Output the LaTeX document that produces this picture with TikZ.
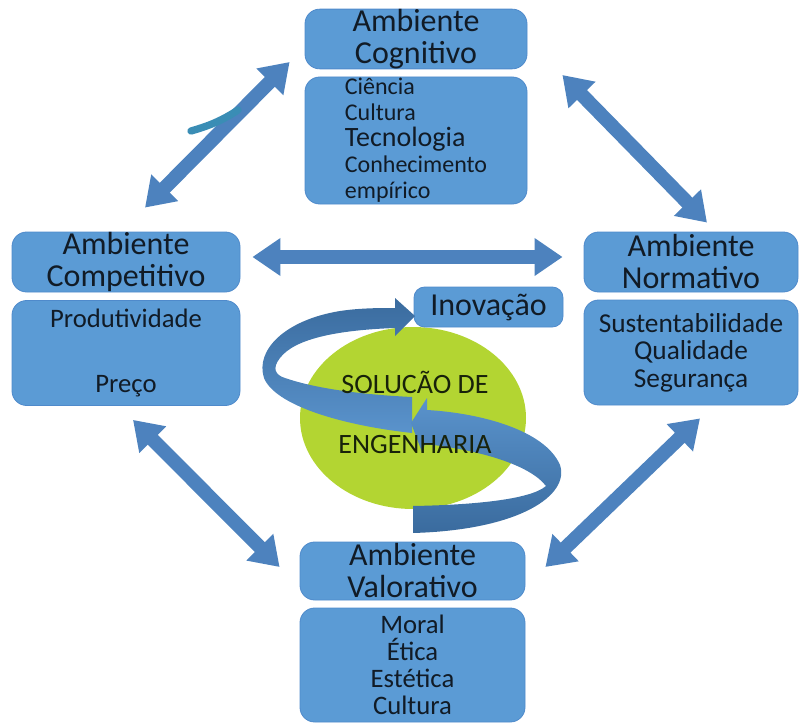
\documentclass[tikz,border=0pt]{standalone}
\usepackage{fontspec}
\setmainfont{Carlito}
\usetikzlibrary{arrows.meta,calc,shapes.geometric}

\definecolor{boxblue}{HTML}{5B9BD5}
\definecolor{boxedge}{HTML}{4F8ACB}
\definecolor{arrowblue}{HTML}{4D82BE}
\definecolor{inkdark}{HTML}{111B26}
\definecolor{limegreen}{HTML}{B3D532}
\definecolor{olivetext}{HTML}{18220A}
\definecolor{ribbonlight}{HTML}{5A93CC}
\definecolor{ribbondark}{HTML}{3A6B9E}
\definecolor{stroketeal}{HTML}{3A8DB5}

\begin{document}
\begin{tikzpicture}[x=0.75pt,y=-0.75pt,
  panel/.style={draw=boxedge, line width=0.6pt, fill=boxblue, rounded corners=11pt,
                inner sep=0pt, text=inkdark, align=center},
  titlebox/.style={panel, font=\fontsize{24pt}{24pt}\selectfont},
  itembox/.style={panel, font=\fontsize{20pt}{20.5pt}\selectfont},
  link/.style={draw=arrowblue, line width=10.5pt,
               {Triangle[width=27pt,length=21pt]}-{Triangle[width=27pt,length=21pt]}},
  ribbon/.style={draw=none}
]
\useasboundingbox (0,0) rectangle (800,724);

% ---- environment panels ----
\node[titlebox, minimum width=166.5pt, minimum height=43.5pt] (cogt) at (416,39) {Ambiente\\Cognitivo};
\node[itembox, minimum width=166.5pt, minimum height=95.25pt, align=left,
      font=\fontsize{18pt}{19.5pt}\selectfont] (cogi) at (416,140.5)
      {Ciência\\Cultura\\{\fontsize{21pt}{19.5pt}\selectfont Tecnologia}\\Conhecimento\\empírico};

\node[titlebox, minimum width=171pt, minimum height=45pt] (compt) at (126,262) {Ambiente\\Competitivo};
\node[itembox, minimum width=171pt, minimum height=78.75pt,
      font=\fontsize{20pt}{24.4pt}\selectfont] (compi) at (126,353) {Produtividade\\[24.4pt]Preço};

\node[titlebox, minimum width=160.5pt, minimum height=45pt] (normt) at (691,262) {Ambiente\\Normativo};
\node[itembox, minimum width=160.5pt, minimum height=78.75pt,
      font=\fontsize{20.5pt}{20.6pt}\selectfont] (normi) at (691,352.5)
      {Sustentabilidade\\Qualidade\\Segurança};

\node[titlebox, minimum width=168.75pt, minimum height=43.5pt] (valt) at (412.5,571) {Ambiente\\Valorativo};
\node[itembox, minimum width=168.75pt, minimum height=85.5pt,
      font=\fontsize{20pt}{20.25pt}\selectfont] (vali) at (412.5,665)
      {Moral\\Ética\\Estética\\Cultura};

% ---- double arrows between the environments ----
\draw[link] ($(cogt.west)+(-15,23)$) -- ($(compt.north)+(19,-24)$);
\draw[link] ($(cogt.east)+(35,36)$) -- ($(normt.north)+(16,-9)$);
\draw[link] ($(compt.east)+(12,-5)$) -- ($(normt.west)+(-21,-5)$);
\draw[link] ($(compi.south)+(7,14)$) -- ($(valt.west)+(-20,-4)$);
\draw[link] ($(normi.south)+(9,13)$) -- ($(valt.east)+(20,-4)$);

% small brush mark on the upper-left arrow
\draw[stroketeal, line width=5.5pt, line cap=round]
  (191,131) .. controls (205,127) and (220,122) .. (238,110);

% ---- central solution ----
\node[ellipse, fill=limegreen, minimum width=169.5pt, minimum height=136.5pt, inner sep=0pt]
  (sol) at (413,418) {};

\node[panel, rounded corners=8pt, minimum width=111.75pt, minimum height=30pt,
      font=\fontsize{24pt}{24pt}\selectfont] (inov) at (488.5,307) {Inovação};

% upper ribbon: sweeps round the left and points to the innovation box
\shade[ribbon, top color=ribbondark, bottom color=ribbonlight]
  (415,316) -- (395,336) -- (395,328)
  .. controls (340,330) and (295,338) .. (280,358)
  .. controls (272,368) and (275,375) .. (285,378)
  .. controls (320,390) and (370,395) .. (412,397)
  -- (412,433)
  .. controls (340,425) and (275,405) .. (264,378)
  .. controls (255,350) and (285,320) .. (340,311)
  .. controls (360,308) and (380,308) .. (395,308)
  -- (395,298) -- cycle;

% lower ribbon: sweeps round the right and points back into the centre
\shade[ribbon, top color=ribbonlight, bottom color=ribbondark]
  (411,423) -- (427,398) -- (427,410)
  .. controls (480,413) and (545,430) .. (560,465)
  .. controls (570,495) and (520,530) .. (413,533)
  -- (413,506)
  .. controls (470,505) and (530,500) .. (546,486)
  .. controls (530,465) and (480,450) .. (425,444)
  -- (422,452) -- cycle;

\node[font=\fontsize{21pt}{45pt}\selectfont, text=olivetext, align=center, inner sep=0pt]
  (soltxt) at (415,412) {SOLUCÃO DE\\ENGENHARIA};

\end{tikzpicture}
\end{document}
